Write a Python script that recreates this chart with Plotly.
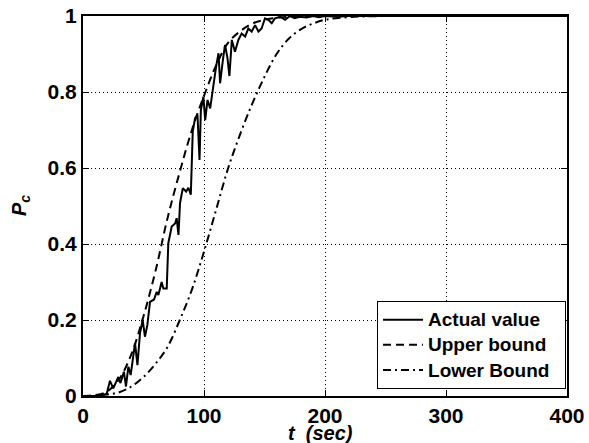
import plotly.graph_objects as go

# ---- data ----
t_actual = [0, 14, 19.6, 22.3, 25, 29.2, 31, 33.8, 35.5, 37.5, 39.4, 41.6, 43, 45, 47.1, 49.3,
            51.2, 53.2, 55.4, 58.7, 60.9, 62.3, 65, 66.4, 69.2, 70.5, 73.3, 76.1, 77.4, 78.9,
            80.2, 82.5, 85.2, 87.1, 89.1, 90.7, 92.6, 94.6, 96.3, 97.4, 99.5, 101, 102.9, 105.1,
            107.9, 110, 112, 113.3, 115.6, 117.4, 119.4, 121, 123, 125.6, 128.4, 131.1, 134,
            136.6, 139.4, 142.2, 145, 147.6, 150.4, 153.2, 156, 158.7, 163, 167, 171, 175, 179,
            185, 190, 195, 200, 210, 220, 400]
p_actual = [0, 0, 0.006, 0.04, 0.02, 0.05, 0.034, 0.064, 0.025, 0.077, 0.055, 0.099, 0.139, 0.081,
            0.165, 0.2, 0.156, 0.187, 0.248, 0.254, 0.274, 0.266, 0.3, 0.283, 0.283, 0.402, 0.446,
            0.454, 0.468, 0.424, 0.508, 0.547, 0.538, 0.548, 0.53, 0.696, 0.731, 0.74, 0.621,
            0.752, 0.788, 0.726, 0.779, 0.757, 0.823, 0.867, 0.902, 0.823, 0.884, 0.924, 0.889,
            0.842, 0.937, 0.906, 0.937, 0.954, 0.946, 0.967, 0.959, 0.976, 0.959, 0.967, 0.994,
            0.99, 0.981, 0.994, 0.998, 0.99, 1.0, 0.994, 0.998, 0.996, 1.0, 0.997, 1.0, 0.998,
            1.0, 1.0]

t_upper = [0, 10, 20, 30, 40, 50, 60, 70, 80, 90, 100, 110, 120, 130, 140, 150, 160, 180, 200, 400]
p_upper = [0, 0.002, 0.012, 0.045, 0.11, 0.21, 0.33, 0.47, 0.59, 0.70, 0.79, 0.87, 0.93, 0.96,
           0.98, 0.99, 0.995, 0.999, 1.0, 1.0]

t_lower = [0, 10, 20, 30, 40, 50, 60, 70, 80, 90, 100, 110, 120, 130, 140, 150, 160, 170, 180,
           190, 200, 220, 250, 400]
p_lower = [0, 0.001, 0.004, 0.01, 0.025, 0.05, 0.085, 0.13, 0.20, 0.28, 0.38, 0.49, 0.60, 0.69,
           0.77, 0.84, 0.90, 0.94, 0.965, 0.98, 0.99, 0.997, 1.0, 1.0]

series_names = ["Actual value", "Upper bound", "Lower Bound"]
x_ticks = [0, 100, 200, 300, 400]
y_ticks = [0, 0.2, 0.4, 0.6, 0.8, 1]
y_tick_labels = ["0", "0.2", "0.4", "0.6", "0.8", "1"]

FONT = "Liberation Sans, Arial, Helvetica, sans-serif"


def legend_name(s):
    return '<span style="font-size:19px"><b>%s</b>&nbsp;&nbsp;</span>' % s


fig = go.Figure()
fig.add_trace(go.Scatter(x=t_actual, y=p_actual, mode="lines", name=legend_name(series_names[0]),
                         line=dict(color="black", width=2)))
fig.add_trace(go.Scatter(x=t_upper, y=p_upper, mode="lines", name=legend_name(series_names[1]),
                         line=dict(color="black", width=2, dash="8px,5px", shape="spline")))
fig.add_trace(go.Scatter(x=t_lower, y=p_lower, mode="lines", name=legend_name(series_names[2]),
                         line=dict(color="black", width=2, dash="8px,4px,2px,4px", shape="spline")))

axis_common = dict(
    showline=True, linecolor="black", linewidth=2, mirror="ticks",
    ticks="inside", ticklen=6, tickwidth=1, tickcolor="black",
    showgrid=True, gridcolor="black", gridwidth=1, griddash="1px,3px",
    zeroline=False, automargin=False,
    tickfont=dict(family=FONT, size=21, color="black", weight="bold"),
)

fig.update_xaxes(range=[0, 400], tickvals=x_ticks,
                 ticktext=["<b>%d</b>" % v for v in x_ticks], **axis_common)
fig.update_yaxes(range=[0, 1], tickvals=y_ticks,
                 ticktext=["<b>%s</b>" % s for s in y_tick_labels], **axis_common)

fig.add_annotation(text="<b><i>t&nbsp; (sec)</i></b>", xref="paper", yref="paper",
                   x=0.49, y=0, yshift=-24, xanchor="center", yanchor="top", showarrow=False,
                   font=dict(family=FONT, size=20, color="black"))
fig.add_annotation(text="<b><i>P</i></b><sub><b><i>c</i></b></sub>", xref="paper", yref="paper",
                   x=0, xshift=-63, y=0.5, xanchor="center", yanchor="middle", textangle=-90,
                   showarrow=False, font=dict(family=FONT, size=20, color="black"))

fig.update_layout(
    width=589, height=443,
    margin=dict(l=83, r=22, t=16, b=47),
    plot_bgcolor="white", paper_bgcolor="white",
    showlegend=True,
    legend=dict(x=0.998, y=0.018, xanchor="right", yanchor="bottom",
                bgcolor="white", bordercolor="black", borderwidth=1,
                font=dict(family=FONT, size=17, color="black"),
                tracegroupgap=0, itemwidth=40),
)

fig.write_html("out.html", config={"displayModeBar": False},
               post_script="document.body.style.margin='0';document.body.style.overflow='hidden';")
